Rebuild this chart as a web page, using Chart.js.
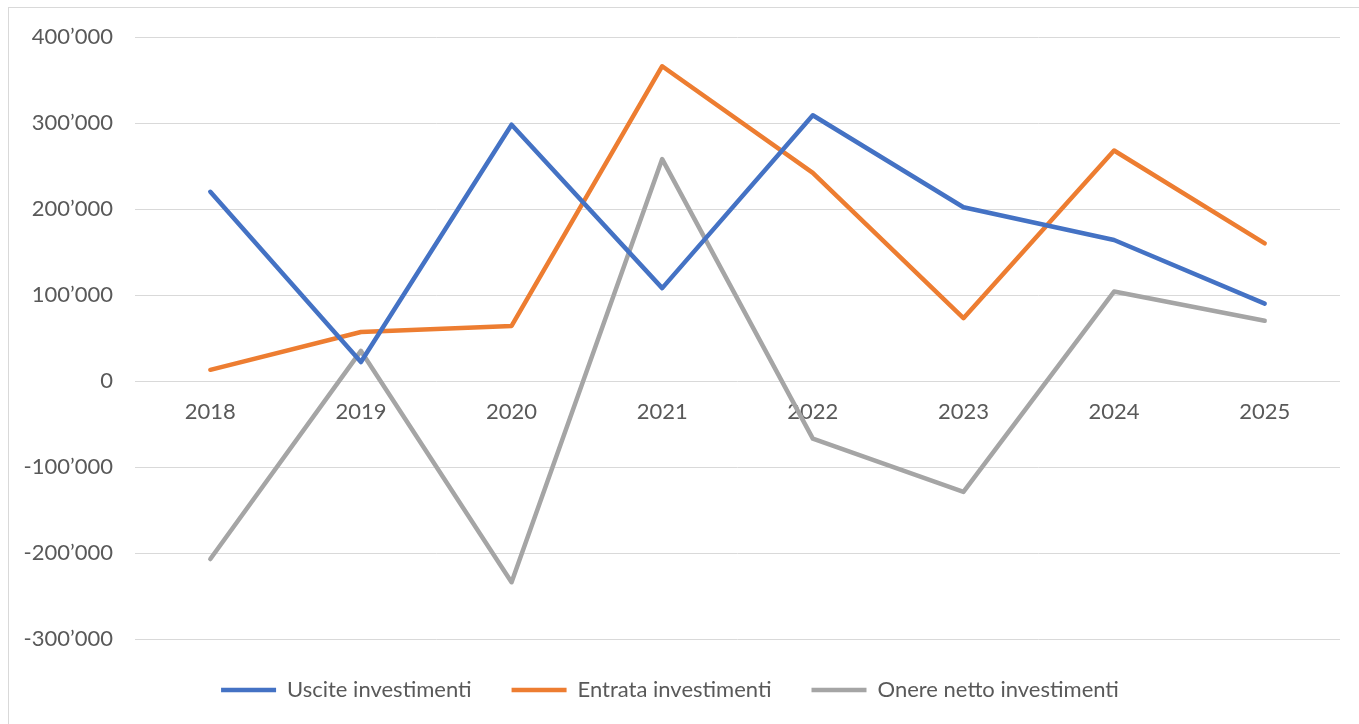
<!DOCTYPE html>
<html>
<head>
<meta charset="utf-8">
<script src="https://cdn.jsdelivr.net/npm/chart.js@4"></script>
<style>
  html, body { margin: 0; padding: 0; background: #fff; }
  #wrap { position: relative; width: 1359px; height: 724px; overflow: hidden; }
  #frame { position: absolute; left: 8px; top: 7px; width: 1400px; height: 800px; border: 1px solid #d9d9d9; pointer-events: none; }
  canvas { position: absolute; left: 0; top: 0; }
</style>
</head>
<body>
<div id="wrap">
  <canvas id="chart" width="1359" height="724"></canvas>
  <div id="frame"></div>
</div>
<script>
  var years = ['2018', '2019', '2020', '2021', '2022', '2023', '2024', '2025'];
  var uscite = [220000, 22000, 298000, 108000, 309000, 202000, 164000, 90000];
  var entrata = [13000, 57000, 64000, 366000, 242000, 73000, 268000, 160000];
  var onere = [-207000, 35000, -234000, 258000, -67000, -129000, 104000, 70000];

  var textColor = '#595959';
  var fontFamily = 'Lato, "Liberation Sans", sans-serif';

  function fmt(v) {
    var s = Math.abs(v).toString().replace(/\B(?=(\d{3})+(?!\d))/g, '\u2019');
    return (v < 0 ? '-' : '') + s;
  }

  function line(label, data, color) {
    return {
      label: label,
      data: data,
      borderColor: color,
      backgroundColor: color,
      borderWidth: 4.5,
      borderCapStyle: 'round',
      borderJoinStyle: 'round',
      pointRadius: 0,
      pointHoverRadius: 0,
      tension: 0,
      fill: false
    };
  }

  new Chart(document.getElementById('chart'), {
    type: 'line',
    data: {
      labels: years,
      datasets: [
        line('Uscite investimenti', uscite, '#4472C4'),
        line('Entrata investimenti', entrata, '#ED7D31'),
        line('Onere netto investimenti', onere, '#A5A5A5')
      ]
    },
    options: {
      responsive: false,
      animation: false,
      layout: { padding: { left: 0, right: 19, top: 37, bottom: 13 } },
      plugins: {
        tooltip: { enabled: false },
        legend: {
          position: 'bottom',
          labels: {
            usePointStyle: true,
            pointStyle: 'line',
            pointStyleWidth: 55,
            padding: 40,
            color: textColor,
            font: { family: fontFamily, size: 22 }
          }
        }
      },
      scales: {
        x: {
          position: { y: 0 },
          offset: true,
          grid: { display: false },
          border: { display: false },
          ticks: {
            padding: 10,
            color: textColor,
            font: { family: fontFamily, size: 22 },
            maxRotation: 0
          }
        },
        y: {
          min: -300000,
          max: 400000,
          afterFit: function (scale) { scale.width = 135; },
          grid: { color: '#d9d9d9', lineWidth: 1, drawTicks: false },
          border: { display: false },
          ticks: {
            stepSize: 100000,
            padding: 22,
            color: textColor,
            font: { family: fontFamily, size: 22 },
            callback: function (v) { return fmt(v); }
          }
        }
      }
    }
  });
</script>
</body>
</html>
